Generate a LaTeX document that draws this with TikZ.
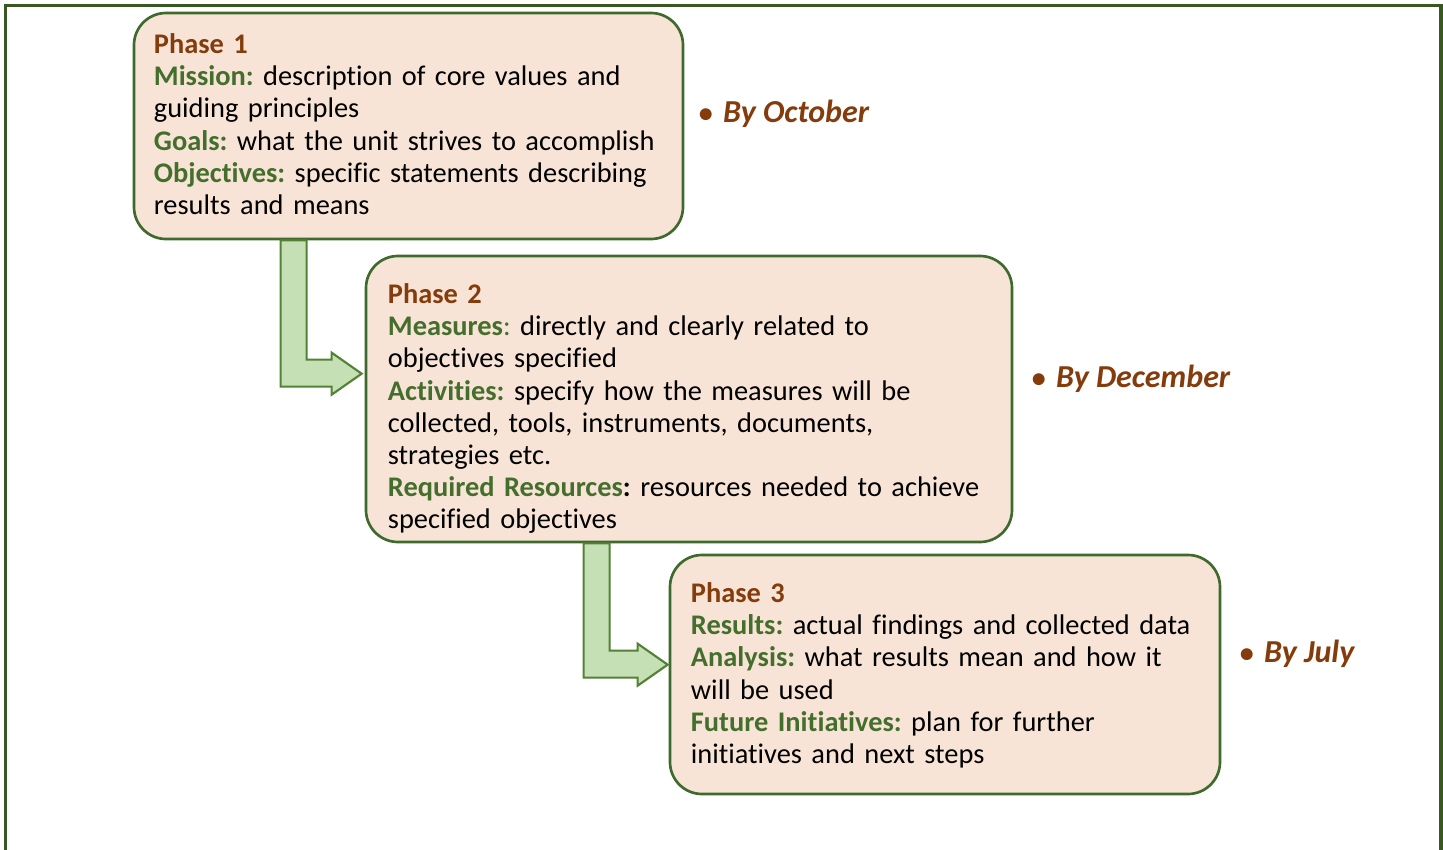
\documentclass[tikz,border=0pt]{standalone}
\usepackage{fontspec}
\setmainfont[Ligatures={NoCommon,NoContextual},Contextuals=NoAlternate]{Carlito}
\usepackage{tikz}
\usetikzlibrary{calc}
\frenchspacing

\definecolor{framegreen}{HTML}{385723}
\definecolor{boxline}{HTML}{3F6A2E}
\definecolor{boxfill}{HTML}{F8E4D6}
\definecolor{phasebrown}{HTML}{843C0C}
\definecolor{keygreen}{HTML}{446E2C}
\definecolor{arrowfill}{HTML}{C5E0B4}
\definecolor{arrowline}{HTML}{538135}

\newcommand\keyword[1]{\textbf{\color{keygreen}#1}}
\newcommand\phasename[1]{\textbf{\color{phasebrown}#1}}
\newcommand\bydate[1]{{\fontsize{21}{24}\selectfont\textbullet}\hspace{8pt}#1}

\begin{document}
\begin{tikzpicture}[x=0.75pt,y=-0.75pt,
  phasebox/.style={draw=boxline,line width=2pt,fill=boxfill,rounded corners=24pt,inner sep=0pt},
  phasetext/.style={anchor=base west,inner sep=0pt,align=left,text width=470pt,
    font=\fontsize{21.3}{24.1}\selectfont},
  deadline/.style={anchor=base west,inner sep=0pt,text=phasebrown,
    font=\fontsize{24}{28}\selectfont\bfseries\itshape},
  flowarrow/.style={draw=arrowline,line width=1.6pt,fill=arrowfill,line join=miter}]
\useasboundingbox (0,0) rectangle (1443,850);
\draw[framegreen,line width=2.3pt] (5.5,862) -- (5.5,5.5) -- (1441,5.5) -- (1441,862);

% the three phases
\node[phasebox,minimum width=411.75pt,minimum height=169.5pt] (p1) at (408.5,126) {};
\node[phasebox,minimum width=484.5pt,minimum height=214.5pt] (p2) at (689,399) {};
\node[phasebox,minimum width=412.5pt,minimum height=179.25pt] (p3) at (945,674.5) {};

\node[phasetext] (t1) at ($(p1.north west)+(21,42)$) {\phasename{Phase 1}\\
  \keyword{Mission:} description of core values and\\
  guiding principles\\
  \keyword{Goals:} what the unit strives to accomplish\\
  \keyword{Objectives:} specific statements describing\\
  results and means};
\node[phasetext] (t2) at ($(p2.north west)+(23,49)$) {\phasename{Phase 2}\\
  \keyword{Measures}{\color{keygreen}:} directly and clearly related to\\
  objectives specified\\
  \keyword{Activities:} specify how the measures will be\\
  collected, tools, instruments, documents,\\
  strategies etc.\\
  \keyword{Required Resources}\textbf{:} resources needed to achieve\\
  specified objectives};
\node[phasetext] (t3) at ($(p3.north west)+(22,49)$) {\phasename{Phase 3}\\
  \keyword{Results:} actual findings and collected data\\
  \keyword{Analysis:} what results mean and how it\\
  will be used\\
  \keyword{Future Initiatives:} plan for further\\
  initiatives and next steps};

% deadlines
\node[deadline] (d1) at ($(p1.east)+(14,-4)$) {\bydate{By October}};
\node[deadline] (d2) at ($(p2.east)+(18,-12)$) {\bydate{By December}};
\node[deadline] (d3) at ($(p3.east)+(18,-12.5)$) {\bydate{By July}};

% connectors
\draw[flowarrow] ($(p1.south west)+(148,0)$) -- ++(26,0)
  |- ($(p2.north west)+(-33,105)$) -- ++(0,-7) -- ($(p2.north west)+(-3,119)$)
  -- ++(-30,21) -- ++(0,-8) -| ($(p1.south west)+(148,0)$) -- cycle;
\draw[flowarrow] ($(p2.south west)+(219,0)$) -- ++(26,0)
  |- ($(p3.north west)+(-31,97)$) -- ++(0,-7) -- ($(p3.north west)+(-1,111)$)
  -- ++(-30,21) -- ++(0,-8) -| ($(p2.south west)+(219,0)$) -- cycle;
\end{tikzpicture}
\end{document}
